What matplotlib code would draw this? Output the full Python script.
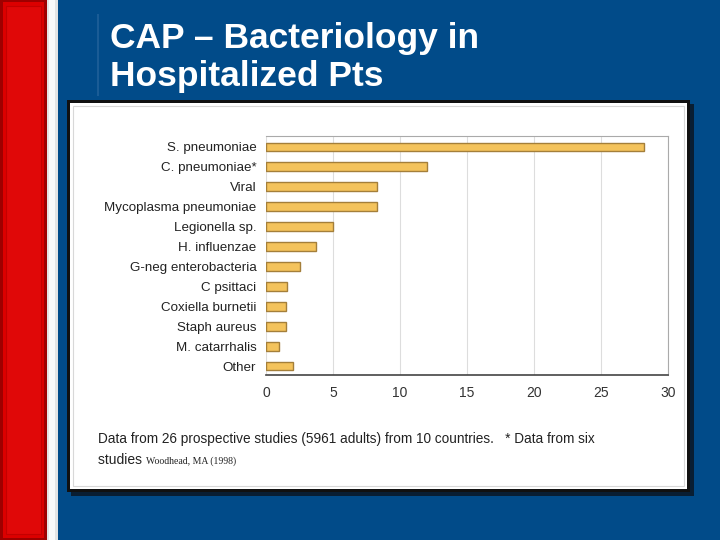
import matplotlib
matplotlib.use("Agg")
import matplotlib.pyplot as plt
from matplotlib.patches import Rectangle

categories = ["S. pneumoniae", "C. pneumoniae*", "Viral", "Mycoplasma pneumoniae",
              "Legionella sp.", "H. influenzae", "G-neg enterobacteria", "C psittaci",
              "Coxiella burnetii", "Staph aureus", "M. catarrhalis", "Other"]
values = [28.2, 12.0, 8.3, 8.3, 5.0, 3.7, 2.5, 1.6, 1.5, 1.5, 1.0, 2.0]
xticks = [0, 5, 10, 15, 20, 25, 30]

W, H = 720, 540
fig = plt.figure(figsize=(7.2, 5.4), dpi=100)
fig.patch.set_facecolor("#014b89")

def rect(x0, y0, x1, y1, **kw):
    # pixel coords (top-left origin)
    r = Rectangle((x0 / W, 1 - y1 / H), (x1 - x0) / W, (y1 - y0) / H,
                  transform=fig.transFigure, **kw)
    fig.patches.append(r)

# left red strip
rect(0, 0, 47, 540, facecolor="#9e0000", edgecolor="none")
rect(3, 2, 44, 538, facecolor="#dc0000", edgecolor="none")
rect(6, 6, 41, 534, facecolor="#e00808", edgecolor="#c40000", lw=0.8)
# white strip
rect(47, 0, 58, 540, facecolor="#e4e4e4", edgecolor="none")
rect(49, 0, 55, 540, facecolor="#fafafa", edgecolor="none")
# subtle line behind title
rect(97, 14, 99, 96, facecolor="#1a5c96", edgecolor="none")

# white panel with shadow
rect(71, 104, 694, 496, facecolor="#0a1a2a", edgecolor="none", alpha=0.9)
rect(67, 100, 690, 492, facecolor="#111111", edgecolor="none")
rect(70, 103, 687, 489, facecolor="white", edgecolor="none")
rect(73, 106, 684, 486, facecolor="none", edgecolor="#d8d8d8", lw=0.8)

# title
fig.text(110 / W, 1 - 48 / H, "CAP \u2013 Bacteriology in", color="white",
         fontsize=25.5, fontweight="bold", family="Liberation Sans", ha="left", va="baseline")
fig.text(110 / W, 1 - 86 / H, "Hospitalized Pts", color="white",
         fontsize=25.5, fontweight="bold", family="Liberation Sans", ha="left", va="baseline")

# chart axes
ax = fig.add_axes([266 / W, 1 - 375 / H, (668 - 266) / W, (375 - 136) / H])
ax.set_zorder(10)
ax.set_facecolor("white")
ypos = list(range(len(categories)))
ax.barh(ypos, values, height=0.44, color="#f4c35c", edgecolor="#a47f3a", linewidth=1.0, zorder=3)
ax.set_xlim(0, 30)
ax.set_ylim(11.45, -0.55)
ax.set_xticks(xticks)
ax.set_xticklabels([str(t) for t in xticks], fontsize=10, color="#333333", family="Liberation Sans")
ax.set_yticks(ypos)
ax.set_yticklabels(categories, fontsize=9.6, color="#222222", family="Liberation Sans")
ax.tick_params(axis="both", length=0)
ax.tick_params(axis="y", pad=7)
ax.tick_params(axis="x", pad=8)
ax.xaxis.grid(True, color="#dddddd", lw=0.8, zorder=0)
ax.set_axisbelow(True)
ax.spines["left"].set_visible(False)
ax.spines["top"].set_color("#aaaaaa")
ax.spines["right"].set_color("#aaaaaa")
ax.spines["bottom"].set_color("#444444")
ax.spines["bottom"].set_linewidth(1.2)

# footnote
fig.text(98 / W, 1 - 443 / H,
         "Data from 26 prospective studies (5961 adults) from 10 countries.   * Data from six",
         fontsize=9.8, color="#222222", family="Liberation Sans", ha="left", va="baseline")
fig.text(98 / W, 1 - 464 / H, "studies ", fontsize=10, color="#222222",
         family="Liberation Sans", ha="left", va="baseline")
fig.text(146 / W, 1 - 464 / H, "Woodhead, MA (1998)", fontsize=7, color="#222222",
         family="Liberation Serif", ha="left", va="baseline")

fig.savefig("out.png", dpi=100, facecolor=fig.get_facecolor())
